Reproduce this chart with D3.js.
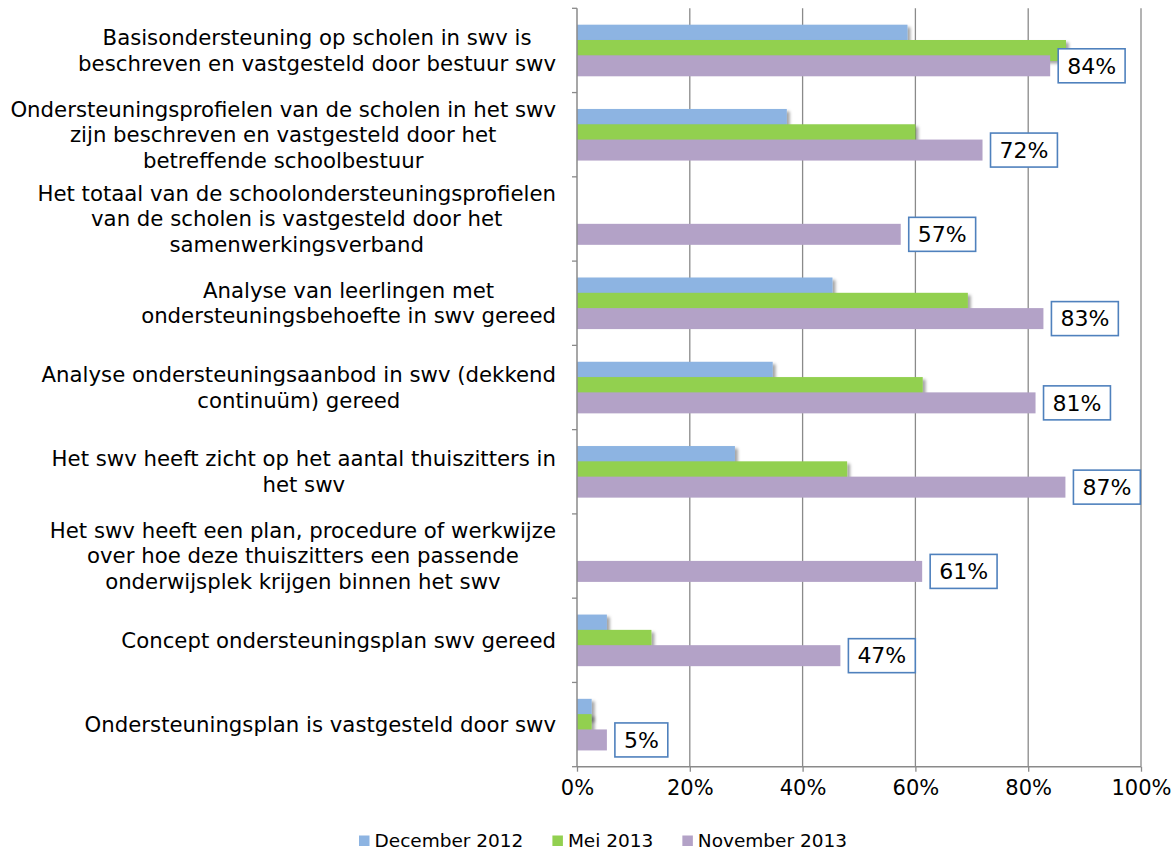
<!DOCTYPE html>
<html>
<head>
<meta charset="utf-8">
<script src="https://cdn.jsdelivr.net/npm/d3@7"></script>
<style>
  html, body { margin: 0; padding: 0; background: #fff; }
  svg { display: block; font-family: "DejaVu Sans", Verdana, sans-serif; }
</style>
</head>
<body>
<svg id="chart" width="1174" height="851"></svg>
<script>
// ---- data ----
const categories = [
  ["Basisondersteuning op scholen in swv is", "beschreven en vastgesteld door bestuur swv"],
  ["Ondersteuningsprofielen van de scholen in het swv", "zijn beschreven en vastgesteld door het", "betreffende schoolbestuur"],
  ["Het totaal van de schoolondersteuningsprofielen", "van de scholen is vastgesteld door het", "samenwerkingsverband"],
  ["Analyse van leerlingen met", "ondersteuningsbehoefte in swv gereed"],
  ["Analyse ondersteuningsaanbod in swv (dekkend", "continuüm) gereed"],
  ["Het swv heeft zicht op het aantal thuiszitters in", "het swv"],
  ["Het swv heeft een plan, procedure of werkwijze", "over hoe deze thuiszitters een passende", "onderwijsplek krijgen binnen het swv"],
  ["Concept ondersteuningsplan swv gereed"],
  ["Ondersteuningsplan is vastgesteld door swv"]
];
const seriesNames = ["December 2012", "Mei 2013", "November 2013"];
const dec2012 = [58.6, 37.2, null, 45.3, 34.7, 28.0, null, 5.3, 2.6];
const mei2013 = [86.7, 60.0, null, 69.3, 61.3, 47.9, null, 13.2, 2.6];
const nov2013 = [83.9, 71.9, 57.4, 82.7, 81.3, 86.6, 61.2, 46.7, 5.3];
const xTicks = [0, 20, 40, 60, 80, 100];
const colors = ["#8DB4E2", "#92D050", "#B3A2C7"];

// ---- layout ----
const svg = d3.select("#chart");
const plotLeft = 577, plotRight = 1141, plotTop = 8.3, plotBottom = 766.7;
const x = d3.scaleLinear().domain([0, 100]).range([plotLeft, plotRight]);
const y = d3.scaleBand().domain(d3.range(categories.length)).range([plotTop, plotBottom]).paddingInner(0).paddingOuter(0);
const bw = y.bandwidth();
const barH = 21, barStep = 15.3, groupOffset = 16.4;
const gridColor = "#8a8a8a";

const defs = svg.append("defs");
const f = defs.append("filter").attr("id", "shadow").attr("x", "-10%").attr("y", "-50%").attr("width", "130%").attr("height", "220%");
f.append("feDropShadow").attr("dx", 3).attr("dy", 2.5).attr("stdDeviation", 1.6)
  .attr("flood-color", "#000").attr("flood-opacity", 0.35);

// gridlines
svg.append("g").selectAll("line").data(xTicks.filter(d => d > 0)).join("line")
  .attr("x1", d => x(d)).attr("x2", d => x(d))
  .attr("y1", plotTop).attr("y2", plotBottom)
  .attr("stroke", gridColor).attr("stroke-width", 1.3);

// bars
const seriesData = [dec2012, mei2013, nov2013];
seriesData.forEach((vals, si) => {
  const g = svg.append("g");
  if (si < 2) g.attr("filter", "url(#shadow)");
  g.selectAll("rect").data(vals.map((v, i) => ({v, i})).filter(d => d.v != null)).join("rect")
    .attr("x", x(0))
    .attr("y", d => y(d.i) + groupOffset + si * barStep)
    .attr("width", d => x(d.v) - x(0))
    .attr("height", barH)
    .attr("fill", colors[si]);
});

// bottom axis
const xAxis = d3.axisBottom(x).tickValues(xTicks).tickSize(5).tickPadding(8).tickFormat(d => d + "%");
const gx = svg.append("g").attr("transform", `translate(0,${plotBottom})`).call(xAxis);
gx.select(".domain").attr("stroke", gridColor).attr("stroke-width", 1.5).attr("d", `M${plotLeft},0H${plotRight}`);
gx.selectAll(".tick line").attr("stroke", gridColor).attr("stroke-width", 1.3);
gx.selectAll(".tick text").attr("font-size", 21).attr("fill", "#000").attr("font-family", "DejaVu Sans").attr("dy", "0.71em");

// left axis with ticks at category boundaries
const bounds = d3.range(categories.length + 1).map(i => plotTop + i * bw);
svg.append("line").attr("x1", plotLeft).attr("x2", plotLeft).attr("y1", plotTop).attr("y2", plotBottom)
  .attr("stroke", gridColor).attr("stroke-width", 1.5);
svg.append("g").selectAll("line").data(bounds).join("line")
  .attr("x1", plotLeft - 5).attr("x2", plotLeft).attr("y1", d => d).attr("y2", d => d)
  .attr("stroke", gridColor).attr("stroke-width", 1.3);

// category labels: block right-aligned, lines centered in block
const lineH = 25.5, labelRight = 556;
const catG = svg.append("g").attr("font-size", 21.25).attr("fill", "#000");
categories.forEach((lines, i) => {
  const cy = y(i) + bw / 2;
  const temp = catG.append("g");
  const texts = lines.map((ln, k) => temp.append("text").text(ln)
    .attr("y", cy + (k - (lines.length - 1) / 2) * lineH).attr("dy", "0.35em"));
  const widths = texts.map(t => t.node().getComputedTextLength());
  const maxW = d3.max(widths);
  texts.forEach(t => t.attr("x", labelRight - maxW / 2).attr("text-anchor", "middle"));
});

// data labels on November 2013
const lblG = svg.append("g");
nov2013.forEach((v, i) => {
  const cy = y(i) + groupOffset + 2 * barStep + barH / 2;
  const g = lblG.append("g");
  const t = g.append("text").text(Math.round(v) + "%").attr("font-size", 22).attr("fill", "#000")
    .attr("text-anchor", "middle").attr("dy", "0.35em");
  const w = t.node().getComputedTextLength() + 18;
  const bx = x(v) + 8;
  g.insert("rect", "text").attr("x", bx).attr("y", cy - 17).attr("width", w).attr("height", 34)
    .attr("fill", "#fff").attr("stroke", "#4F81BD").attr("stroke-width", 1.6);
  t.attr("x", bx + w / 2).attr("y", cy);
});

// legend
const legend = svg.append("g").attr("font-size", 18.5);
let lx = 359;
seriesNames.forEach((name, si) => {
  legend.append("rect").attr("x", lx).attr("y", 835.5).attr("width", 10.5).attr("height", 10.5).attr("fill", colors[si]);
  const t = legend.append("text").attr("x", lx + 15.5).attr("y", 846.5).text(name).attr("fill", "#000");
  lx += 15.5 + t.node().getComputedTextLength() + 29;
});
</script>
</body>
</html>
